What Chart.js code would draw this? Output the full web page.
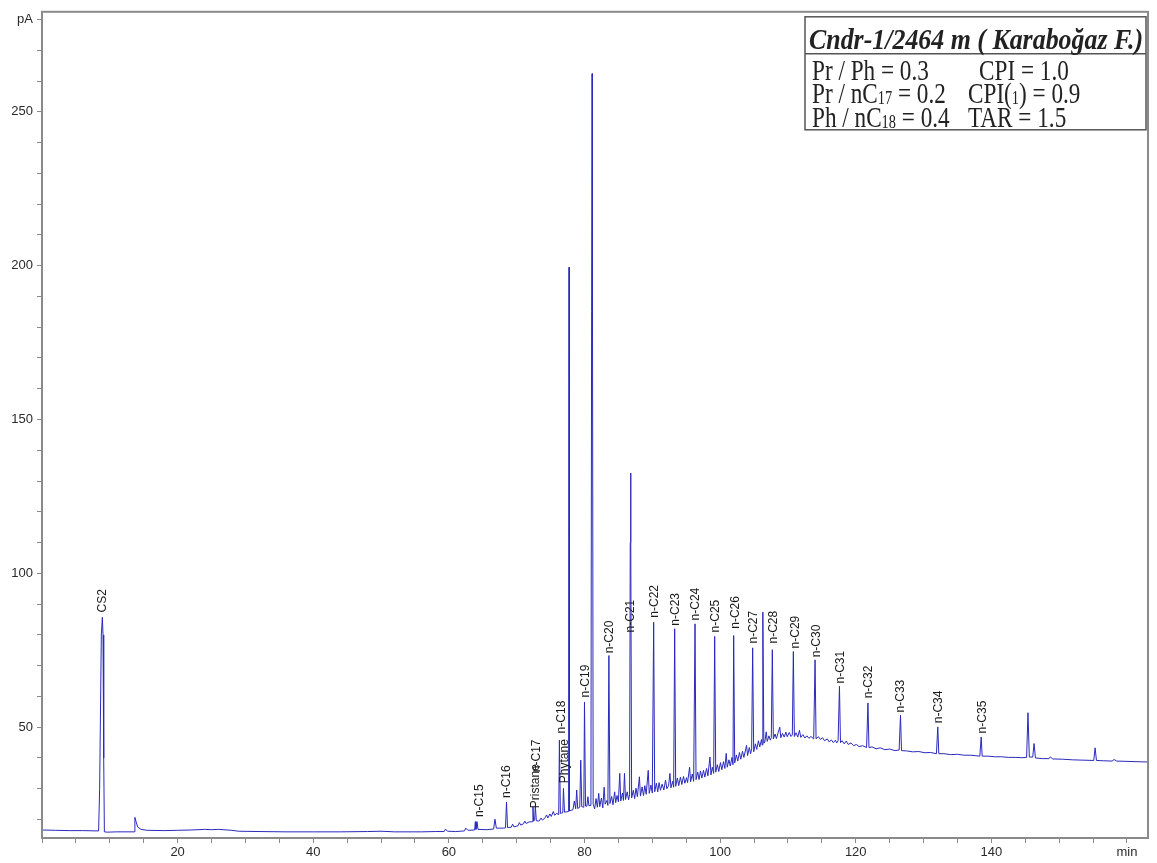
<!doctype html>
<html lang="en">

<head>
    <title>Cndr-1/2464 m chromatogram</title>
    <meta charset="utf-8">
    <style type="text/css">
        body,
        html {
            margin: 0;
            padding: 0;
            background: #fff;
            overflow: hidden;
        }
    </style>
    <script type="text/javascript" src="https://cdn.jsdelivr.net/npm/chart.js@4/dist/chart.umd.min.js"></script>
</head>

<body>
    <canvas id="chart" width="1157" height="863"></canvas>
    <script>
        // trace, [time (min), signal (pA)]
        const traceEarly = [
            [0, 16.6], [2, 16.5], [4, 16.4], [6, 16.4], [8.35, 16.3], [8.5, 30], [8.75, 80], [8.9, 85.7],
            [9.0, 80], [9.1, 40], [9.2, 16.0], [9.6, 15.9], [11, 16.0], [13.6, 16.0], [13.7, 20.7],
            [13.85, 19.5], [14.1, 17.6], [14.6, 16.8], [15.5, 16.5], [18, 16.4], [20, 16.5], [22, 16.6],
            [24, 16.8], [25, 16.7], [26, 16.8], [28, 16.5], [29, 16.2], [32, 16.1], [36, 16.0], [40, 16.0],
            [44, 16.0], [48, 16.1], [50, 16.2], [52, 16.0], [56, 16.0], [58, 16.1], [59.3, 16.1],
            [59.5, 16.9], [59.8, 16.2], [61, 16.1], [62.3, 16.3], [62.5, 17.2], [62.8, 16.5]
        ];
        const traceLight = [
            [63.8, 16.6], [63.9, 19.3], [64.0, 16.8], [64.15, 19.3], [64.3, 16.8], [65.5, 16.7],
            [66.6, 16.9], [66.8, 20.1], [67.0, 17.2], [68.0, 17.2], [68.35, 17.3], [68.5, 25.7],
            [68.65, 17.4], [69.2, 17.5], [69.4, 18.5], [69.6, 17.6], [70.2, 18.0], [70.4, 19.0],
            [70.6, 18.2], [71.0, 18.6], [71.2, 19.5], [71.4, 18.7], [71.8, 19.2], [72.3, 19.3],
            [72.4, 24.1], [72.5, 19.5], [72.65, 19.8], [72.75, 24.5], [72.9, 19.6], [73.3, 19.5],
            [73.6, 20.5], [73.8, 19.8], [74.2, 20.6], [74.4, 21.5], [74.6, 20.5], [74.9, 21.8],
            [75.1, 21.0], [75.4, 22.6], [75.6, 21.4], [75.9, 22.0], [76.2, 21.6], [76.3, 45.8],
            [76.45, 22.0], [76.8, 22.2], [76.9, 30.1], [77.05, 22.4], [77.66, 22.6], [77.72, 199.5],
            [77.78, 22.8], [78.3, 23.2], [78.5, 26.0], [78.7, 23.5], [78.85, 29.6], [79.0, 23.6],
            [79.3, 24.0], [79.45, 39.3], [79.6, 24.2], [79.9, 24.0], [80.0, 58.2], [80.15, 24.4],
            [80.35, 24.3], [80.5, 27.4], [80.65, 24.5], [80.95, 24.6], [81.05, 185.0], [81.12, 262.4],
            [81.18, 185.0], [81.28, 25.0]
        ];
        const traceHump = [
            [81.5, 23.5], [81.7, 26.8], [81.9, 24.0], [82.1, 28.5], [82.25, 24.2], [82.5, 27.0],
            [82.7, 23.8], [82.9, 30.5], [83.05, 25.0], [83.3, 26.2], [83.45, 24.6], [83.6, 73.3],
            [83.75, 25.2], [84.0, 27.5], [84.2, 24.8], [84.45, 29.0], [84.6, 25.5], [84.8, 27.8],
            [85.0, 25.8], [85.2, 35.0], [85.35, 26.0], [85.6, 28.6], [85.75, 26.2], [85.9, 35.0],
            [86.05, 26.5], [86.3, 29.0], [86.5, 26.4], [86.65, 28.0], [86.75, 110.0], [86.8, 132.6],
            [86.85, 110.0], [86.95, 27.0],
            [87.2, 29.5], [87.4, 26.8], [87.6, 30.2], [87.8, 27.4], [88.1, 33.9], [88.25, 27.6],
            [88.5, 30.6], [88.7, 27.8], [88.9, 31.0], [89.1, 28.2], [89.4, 36.0], [89.55, 28.5],
            [89.8, 31.2], [90.0, 28.6], [90.2, 84.1], [90.35, 29.0], [90.6, 31.8], [90.8, 29.0],
            [91.0, 32.0], [91.2, 29.5], [91.45, 31.5], [91.7, 29.6], [91.95, 32.8], [92.15, 30.0],
            [92.4, 31.0], [92.6, 35.0], [92.75, 30.3], [93.0, 32.4], [93.15, 30.5], [93.3, 82.0],
            [93.45, 30.8], [93.7, 33.5], [93.9, 31.0], [94.15, 33.8], [94.35, 31.4], [94.6, 34.0],
            [94.8, 31.8], [95.05, 33.6], [95.2, 32.0], [95.5, 37.0], [95.65, 32.3], [95.9, 34.8],
            [96.1, 32.4], [96.3, 83.6], [96.45, 33.0], [96.7, 35.4], [96.9, 33.0], [97.1, 35.8],
            [97.3, 33.5], [97.55, 36.0], [97.75, 33.8], [98.0, 36.6], [98.2, 34.2], [98.5, 40.3],
            [98.65, 34.5], [98.85, 37.0], [99.05, 35.0], [99.2, 79.5], [99.35, 35.4], [99.6, 37.8],
            [99.8, 35.6], [100.05, 38.5], [100.25, 36.2], [100.5, 38.8], [100.7, 36.6], [100.9, 41.5],
            [101.05, 37.0], [101.3, 39.4], [101.5, 37.4], [101.75, 40.2], [101.9, 37.8], [102.0, 79.8],
            [102.15, 38.4], [102.4, 41.0], [102.6, 39.0], [102.85, 41.8], [103.05, 39.6], [103.3, 42.2],
            [103.5, 40.2], [103.9, 44.1], [104.05, 40.8], [104.3, 43.4], [104.5, 41.4], [104.65, 43.0],
            [104.8, 75.8], [104.95, 42.0], [105.2, 44.6], [105.4, 42.8], [105.65, 45.6], [105.85, 43.6],
            [106.1, 46.0], [106.2, 44.2], [106.3, 87.4], [106.45, 44.8], [106.6, 45.2], [106.8, 48.5],
            [106.95, 45.4], [107.2, 47.2], [107.4, 45.8], [107.55, 46.6], [107.7, 75.2], [107.85, 46.2],
            [108.1, 47.8], [108.3, 46.3], [108.55, 48.2], [108.8, 50.0], [108.95, 46.6], [109.2, 48.0],
            [109.45, 46.8], [109.7, 48.4], [109.9, 46.9], [110.2, 48.3], [110.45, 47.0], [110.65, 47.5],
            [110.8, 74.6], [110.95, 47.0], [111.2, 48.2], [111.45, 46.8], [111.7, 49.0], [111.9, 46.7]
        ];
        const traceLate = [
            [112.2, 47.6], [112.5, 46.5], [112.8, 47.2], [113.1, 46.4], [113.4, 47.0], [113.8, 46.2],
            [114.0, 71.9], [114.15, 46.2], [114.5, 46.9], [114.8, 46.0], [115.1, 46.6], [115.4, 45.6],
            [115.8, 46.2], [116.1, 45.2], [116.4, 45.9], [116.7, 45.0], [117.0, 45.8], [117.2, 44.9],
            [117.4, 45.6], [117.6, 63.3], [117.75, 45.0], [118.0, 45.6], [118.3, 44.6], [118.6, 45.5],
            [118.9, 44.4], [119.3, 44.9], [119.7, 44.0], [120.1, 44.4], [120.5, 43.7], [121.0, 44.0],
            [121.6, 43.4], [121.8, 57.9], [121.95, 43.4], [122.4, 43.6], [123.0, 43.0], [123.6, 43.3],
            [124.3, 42.7], [125.0, 42.9], [125.8, 42.4], [126.4, 42.6], [126.6, 53.9], [126.75, 42.4],
            [127.5, 42.3], [128.4, 42.0], [129.3, 42.1], [130.2, 41.7], [131.0, 41.8], [131.9, 41.4],
            [132.1, 50.1], [132.25, 41.4], [133.0, 41.4], [134.0, 41.1], [135.0, 41.2], [136.0, 40.9],
            [137.0, 40.9], [138.3, 40.6], [138.5, 46.8], [138.65, 40.6], [139.5, 40.6], [140.5, 40.4],
            [141.5, 40.4], [142.5, 40.2], [143.5, 40.2], [144.5, 40.1], [145.2, 40.2], [145.4, 54.7],
            [145.6, 40.3], [146.1, 40.3], [146.3, 44.7], [146.5, 40.0], [147.5, 39.8], [148.5, 39.8],
            [148.7, 40.4], [149.0, 39.7], [150.5, 39.6], [152.0, 39.4], [153.5, 39.3], [155.1, 39.2],
            [155.3, 43.3], [155.5, 39.2], [156.5, 39.1], [157.8, 39.0], [158.1, 39.5], [158.5, 39.0],
            [160.0, 38.9], [161.5, 38.8], [163.1, 38.7]
        ];

        // peak names, where their text sits (time) and the signal level at the foot of the text
        const peakNames = ["CS2", "n-C15", "n-C16", "Pristane", "n-C17", "n-C18", "Phytane", "n-C19",
            "n-C20", "n-C21", "n-C22", "n-C23", "n-C24", "n-C25", "n-C26", "n-C27", "n-C28", "n-C29",
            "n-C30", "n-C31", "n-C32", "n-C33", "n-C34", "n-C35"];
        const peakTimes = [9.0, 64.5, 68.6, 72.8, 72.95, 76.7, 77.1, 80.2,
            83.7, 86.8, 90.4, 93.4, 96.4, 99.3, 102.3, 104.9, 107.9, 111.1,
            114.2, 117.8, 121.9, 126.7, 132.2, 138.7];
        const peakTextFoot = [87.3, 20.8, 27.0, 23.7, 35.4, 48.0, 31.8, 59.7,
            74.0, 80.8, 85.6, 83.0, 84.7, 80.8, 82.0, 77.2, 77.2, 75.6,
            72.7, 64.2, 59.4, 54.8, 51.3, 48.0];

        const xTicks = [20, 40, 60, 80, 100, 120, 140];
        const yTicks = [50, 100, 150, 200, 250];

        const sampleTitle = "Cndr-1/2464 m ( Karaboğaz F.)";
        // each row: [text, subscript?] pieces, left column then right column
        const ratioRows = [
            [[["Pr / Ph = 0.3", false]], [["CPI = 1.0", false]]],
            [[["Pr / nC", false], ["17", true], [" = 0.2", false]], [["CPI(", false], ["1", true], [") = 0.9", false]]],
            [[["Ph / nC", false], ["18", true], [" = 0.4", false]], [["TAR = 1.5", false]]]
        ];

        const trace = traceEarly.concat(traceLight, traceHump, traceLate)
            .map(p => ({ x: p[0], y: p[1] }));

        const frame = {
            id: "frame",
            afterDatasetsDraw(chart) {
                const a = chart.chartArea;
                const ctx = chart.ctx;
                ctx.save();
                ctx.strokeStyle = "#8a8a8a";
                ctx.lineWidth = 2;
                ctx.strokeRect(a.left, a.top, a.right - a.left, a.bottom - a.top);
                ctx.restore();
            }
        };

        const peakLabels = {
            id: "peakLabels",
            afterDatasetsDraw(chart) {
                const ctx = chart.ctx;
                const xs = chart.scales.x;
                const ys = chart.scales.y;
                ctx.save();
                ctx.fillStyle = "#1a1a1a";
                ctx.font = "12px 'Liberation Sans', Arial, sans-serif";
                ctx.textAlign = "left";
                ctx.textBaseline = "middle";
                peakNames.forEach((name, i) => {
                    ctx.save();
                    ctx.translate(xs.getPixelForValue(peakTimes[i]), ys.getPixelForValue(peakTextFoot[i]));
                    ctx.rotate(-Math.PI / 2);
                    ctx.fillText(name, 0, 0);
                    ctx.restore();
                });
                ctx.restore();
            }
        };

        const infoBox = {
            id: "infoBox",
            afterDraw(chart) {
                const a = chart.chartArea;
                const ctx = chart.ctx;
                const right = a.right - 2;
                const left = right - 341;
                const top = a.top + 5;
                const squeeze = 0.8;
                ctx.save();
                ctx.fillStyle = "#fff";
                ctx.fillRect(left, top, right - left, 113);
                ctx.strokeStyle = "#555";
                ctx.lineWidth = 1.5;
                ctx.strokeRect(left, top, right - left, 113);
                ctx.beginPath();
                ctx.moveTo(left, top + 37);
                ctx.lineTo(right, top + 37);
                ctx.stroke();

                ctx.fillStyle = "#222";
                ctx.textBaseline = "alphabetic";
                ctx.font = "italic bold 30px 'Liberation Serif', 'Times New Roman', serif";
                const tw = ctx.measureText(sampleTitle).width;
                ctx.save();
                ctx.translate(left + 4, top + 32);
                ctx.scale(334 / tw, 1);
                ctx.fillText(sampleTitle, 0, 0);
                ctx.restore();

                const colX = [left + 7, left + 174];
                const colX2 = [left + 7, left + 163];
                ratioRows.forEach((row, r) => {
                    const base = top + 63 + r * 23.5;
                    row.forEach((pieces, c) => {
                        let x = (r === 0 ? colX : colX2)[c];
                        pieces.forEach(p => {
                            ctx.font = (p[1] ? "18px" : "29px") + " 'Liberation Serif', 'Times New Roman', serif";
                            const w = ctx.measureText(p[0]).width * squeeze;
                            ctx.save();
                            ctx.translate(x, base + (p[1] ? 1 : 0));
                            ctx.scale(squeeze, 1);
                            ctx.fillText(p[0], 0, 0);
                            ctx.restore();
                            x += w;
                        });
                    });
                });
                ctx.restore();
            }
        };

        const ctx = document.getElementById("chart").getContext("2d");
        new Chart(ctx, {
            type: "line",
            data: {
                datasets: [{
                    data: trace,
                    borderColor: "#2a2abc",
                    borderWidth: 1,
                    pointRadius: 0,
                    tension: 0,
                }, ],
            },
            options: {
                responsive: false,
                animation: false,
                devicePixelRatio: 1,
                layout: {
                    padding: { top: 10, right: 9, left: 0, bottom: 0 }
                },
                plugins: {
                    legend: { display: false },
                    tooltip: { enabled: false },
                },
                scales: {
                    x: {
                        type: "linear",
                        min: 0,
                        max: 163.1,
                        afterFit(s) { s.height = 25; },
                        border: { color: "#8a8a8a", width: 2 },
                        grid: { drawOnChartArea: false, tickLength: 5, color: "#8a8a8a" },
                        ticks: {
                            stepSize: 5,
                            autoSkip: false,
                            maxRotation: 0,
                            includeBounds: false,
                            padding: 2,
                            color: "#2a2a2a",
                            font: { family: "'Liberation Sans', Arial, sans-serif", size: 13 },
                            callback: (v) => xTicks.includes(v) ? String(v) : (v === 160 ? "min" : ""),
                        },
                    },
                    y: {
                        min: 14,
                        max: 282.5,
                        afterFit(s) { s.width = 42; },
                        border: { color: "#8a8a8a", width: 2 },
                        grid: { drawOnChartArea: false, tickLength: 5, color: "#8a8a8a" },
                        ticks: {
                            stepSize: 10,
                            autoSkip: false,
                            includeBounds: false,
                            padding: 4,
                            color: "#2a2a2a",
                            font: { family: "'Liberation Sans', Arial, sans-serif", size: 13 },
                            callback: (v) => yTicks.includes(v) ? String(v) : (v === 280 ? "pA" : ""),
                        },
                    },
                },
            },
            plugins: [frame, peakLabels, infoBox],
        });
    </script>
</body>

</html>
